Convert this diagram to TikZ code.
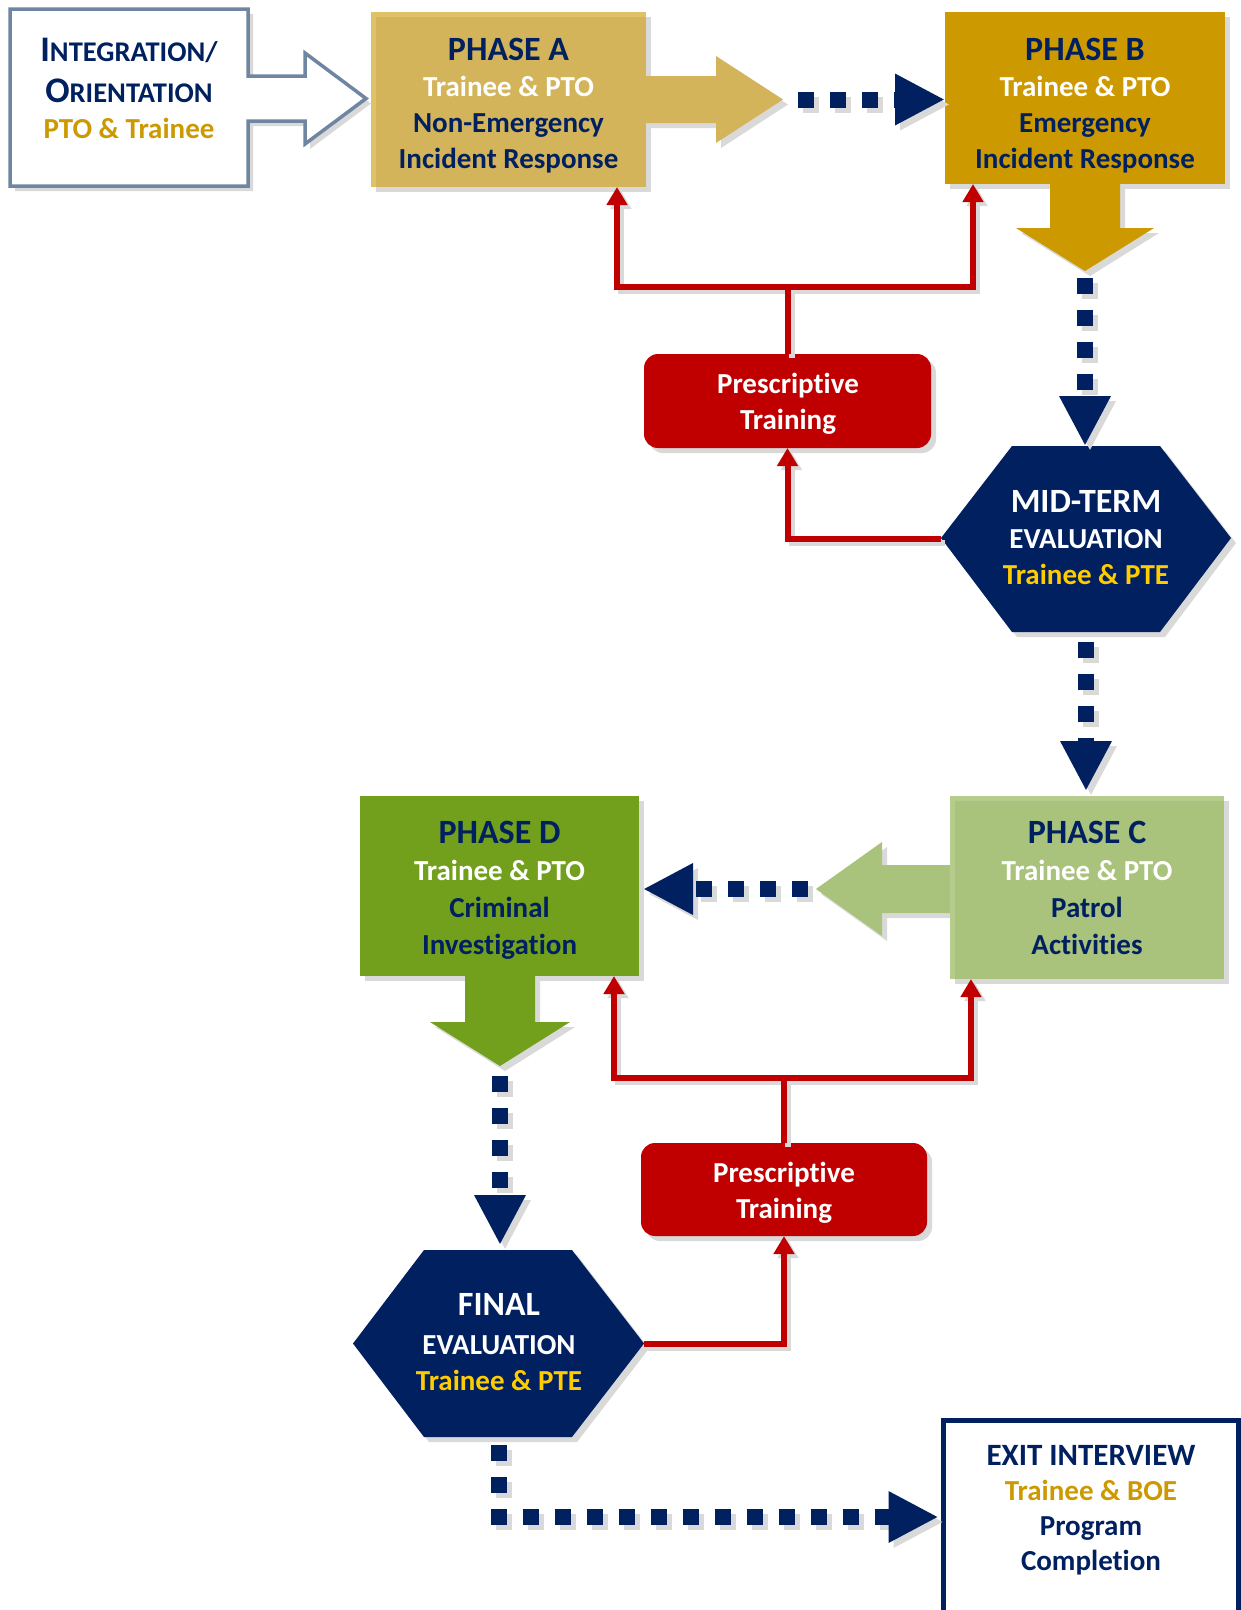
\documentclass[tikz,border=0pt]{standalone}
\usepackage{fontspec}
\newfontfamily\cf{Carlito}[Ligatures=NoCommon]
\usetikzlibrary{arrows.meta,shadows,calc}
\definecolor{navy}{HTML}{002060}
\definecolor{gtxt}{HTML}{CC9A00}
\definecolor{ytxt}{HTML}{FFCC00}
\definecolor{phA}{HTML}{D4B45A}
\definecolor{phAedge}{HTML}{DEC267}
\definecolor{phB}{HTML}{CC9900}
\definecolor{phC}{HTML}{A9C27C}
\definecolor{phCedge}{HTML}{B5CC8C}
\definecolor{phD}{HTML}{72A01D}
\definecolor{redc}{HTML}{C00000}
\definecolor{steel}{HTML}{6E86A1}
\definecolor{shd}{HTML}{D9D9D9}
\begin{document}
\begin{tikzpicture}[x=1pt,y=-1pt,
 grshadow/.style={general shadow={fill=shd,shadow xshift=5pt,shadow yshift=-5pt}},
 phbox/.style={rectangle,inner sep=0pt,outer sep=0pt,grshadow},
 anchorbox/.style={rectangle,inner sep=0pt,outer sep=0pt},
 lbl/.style={anchor=north,inner sep=0pt,align=center,font=\cf\bfseries\fontsize{29}{#1}\selectfont},
 lbl/.default=36,
 dotconn/.style={draw=navy,line width=16pt,dash pattern=on 16pt off 16pt,line join=miter,-{Triangle[length=50pt,width=48pt]},
   preaction={draw=shd,line width=16pt,dash pattern=on 16pt off 16pt,line join=miter,-{Triangle[length=50pt,width=48pt]},transform canvas={shift={(5pt,-5pt)}}}},
 redconn/.style={draw=redc,line width=6pt,-{Triangle[length=18pt,width=20pt]},
   preaction={draw=shd,line width=6pt,-{Triangle[length=18pt,width=20pt]},transform canvas={shift={(4pt,-4pt)}}}},
 lightedge/.style={line width=5pt,line join=miter},
]
\fill[white] (0,0) rectangle (1241,1610);
\useasboundingbox (0,0) rectangle (1241,1610);
\clip (0,0) rectangle (1241,1610);

% Integration / Orientation
\path[fill=white,draw=steel,line width=3.5pt,line join=miter,grshadow]
 (10,9) -- (248,9) -- (248,76) -- (305,76) -- (305,53) -- (366,98.5) -- (305,144) -- (305,121) -- (248,121) -- (248,186) -- (10,186) -- cycle;

% Phase A
\node[phbox,fill=phA,minimum width=275pt,minimum height=175pt] (A) at (508.5,99.5) {};
\draw[lightedge,draw=phAedge] ($(A.south west)+(2.5,0)$) -- ($(A.north west)+(2.5,2.5)$) -- ($(A.north east)+(0,2.5)$);
\fill[phA,grshadow] (644,76) -- (716,76) -- (716,56) -- (783,99.5) -- (716,143) -- (716,123) -- (644,123) -- cycle;
\coordinate (Atip) at (783,99.5);

% Phase B
\node[phbox,fill=phB,minimum width=280pt,minimum height=172pt] (B) at (1085,98) {};
\fill[phB,grshadow] (1050,182) -- (1120,182) -- (1120,228) -- (1154,228) -- (1085,271) -- (1016,228) -- (1050,228) -- cycle;
\coordinate (Btip) at (1085,271);

% Phase C
\fill[phC,grshadow] (952,865) -- (882,865) -- (882,842) -- (816,889) -- (882,936) -- (882,913) -- (952,913) -- cycle;
\node[phbox,fill=phC,minimum width=274pt,minimum height=183pt] (C) at (1087,887.5) {};
\draw[lightedge,draw=phCedge] ($(C.south west)+(2.5,0)$) -- ($(C.north west)+(2.5,2.5)$) -- ($(C.north east)+(0,2.5)$);
\coordinate (Ctip) at (816,889);

% Phase D
\node[phbox,fill=phD,minimum width=279pt,minimum height=180pt] (D) at (499.5,886) {};
\fill[phD,grshadow] (465,974) -- (535,974) -- (535,1022) -- (570,1022) -- (500,1066) -- (430,1022) -- (465,1022) -- cycle;
\coordinate (Dtip) at (500,1066);

% Mid-term hexagon
\fill[navy,grshadow] (941,538) -- (1012,446) -- (1160,446) -- (1231,538) -- (1160,632) -- (1012,632) -- cycle;
\node[anchorbox,minimum width=290pt,minimum height=186pt] (M) at (1086,539) {};

% Final hexagon
\fill[navy,grshadow] (353,1343.5) -- (424,1250) -- (572,1250) -- (644,1343.5) -- (572,1437) -- (424,1437) -- cycle;
\node[anchorbox,minimum width=291pt,minimum height=187pt] (F) at (498.5,1343.5) {};

% Prescriptive training boxes
\node[phbox,fill=redc,rounded corners=14pt,minimum width=287pt,minimum height=94pt] (P1) at (787.5,401) {};
\node[phbox,fill=redc,rounded corners=14pt,minimum width=286pt,minimum height=93pt] (P2) at (784,1189.5) {};

% Exit interview
\node[anchorbox,draw=navy,line width=5pt,fill=white,minimum width=295pt,minimum height=240pt] (E) at (1091,1540) {};

% Red connectors
\draw[redconn] (P1.north) -- ++(0,-67) -| ($(A.south east)+(-29,0)$);
\draw[redconn] (P1.north) -- ++(0,-67) -| ($(B.south west)+(28,0)$);
\draw[redconn] (M.west) -| (P1.south);
\draw[redconn] (P2.north) -- ++(0,-65) -| ($(D.south east)+(-25,0)$);
\draw[redconn] (P2.north) -- ++(0,-65) -| ($(C.south west)+(21,0)$);
\draw[redconn] (F.east) -| (P2.south);

% Dotted connectors
\draw[dotconn] ([xshift=15pt]Atip) -- (B.west |- Atip);
\draw[dotconn] ([yshift=-7pt]Btip) -- (Btip |- M.north);
\draw[dotconn] ([yshift=-10pt]M.south) -- ($(M.south |- C.north)+(0,-5)$);
\draw[dotconn] ([xshift=-8pt]Ctip) -- ($(D.east |- Ctip)+(4,0)$);
\draw[dotconn] ([yshift=-10pt]Dtip) -- ($(Dtip |- F.north)+(0,-5)$);
\draw[dotconn] ([yshift=-8pt]F.south) |- ($(E.west)+(-5,-23)$);

% Texts
\node[lbl] (It) at (129,31) {\rule{0pt}{30pt}\textcolor{navy}{{\fontsize{36}{36}\selectfont I}{\fontsize{28.5}{36}\selectfont NTEGRATION/}}\\[5pt]\textcolor{navy}{{\fontsize{36}{36}\selectfont O}{\fontsize{28.5}{36}\selectfont RIENTATION}}\\\textcolor{gtxt}{PTO \& Trainee}};
\node[lbl] (At) at (508.5,30) {\rule{0pt}{30pt}\textcolor{navy}{\fontsize{34}{36}\selectfont PHASE A}\\\textcolor{white}{Trainee \& PTO}\\\textcolor{navy}{Non-Emergency}\\\textcolor{navy}{Incident Response}};
\node[lbl] (Bt) at (1085,30) {\rule{0pt}{30pt}\textcolor{navy}{\fontsize{34}{36}\selectfont PHASE B}\\\textcolor{white}{Trainee \& PTO}\\\textcolor{navy}{Emergency}\\\textcolor{navy}{Incident Response}};
\node[lbl] (P1t) at (788,363) {\rule{0pt}{30pt}\textcolor{white}{Prescriptive}\\\textcolor{white}{Training}};
\node[lbl] (Mt) at (1086,482) {\rule{0pt}{30pt}\textcolor{white}{\fontsize{34}{36}\selectfont MID-TERM}\\\textcolor{white}{EVALUATION}\\\textcolor{ytxt}{Trainee \& PTE}};
\node[lbl=37] (Ct) at (1087,813) {\rule{0pt}{30pt}\textcolor{navy}{\fontsize{34}{37}\selectfont PHASE C}\\\textcolor{white}{Trainee \& PTO}\\\textcolor{navy}{Patrol}\\\textcolor{navy}{Activities}};
\node[lbl=37] (Dt) at (499.5,813) {\rule{0pt}{30pt}\textcolor{navy}{\fontsize{34}{37}\selectfont PHASE D}\\\textcolor{white}{Trainee \& PTO}\\\textcolor{navy}{Criminal}\\\textcolor{navy}{Investigation}};
\node[lbl] (P2t) at (784,1152) {\rule{0pt}{30pt}\textcolor{white}{Prescriptive}\\\textcolor{white}{Training}};
\node[lbl] (Ft) at (499,1285) {\rule{0pt}{30pt}\textcolor{white}{\fontsize{34}{36}\selectfont FINAL}\\[3pt]\textcolor{white}{EVALUATION}\\\textcolor{ytxt}{Trainee \& PTE}};
\node[lbl=35] (Et) at (1091,1435) {\rule{0pt}{30pt}\textcolor{navy}{\fontsize{31}{35}\selectfont EXIT INTERVIEW}\\\textcolor{gtxt}{Trainee \& BOE}\\\textcolor{navy}{Program}\\\textcolor{navy}{Completion}};
\end{tikzpicture}
\end{document}
